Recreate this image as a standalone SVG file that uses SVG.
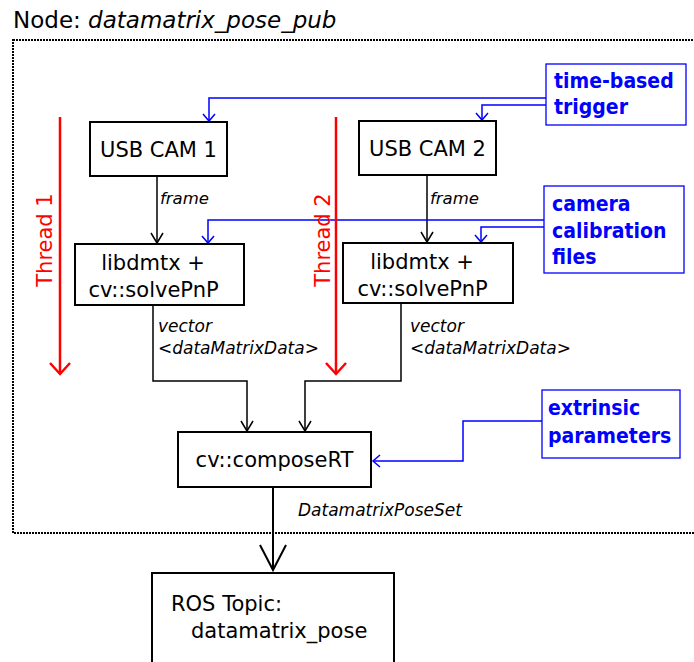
<svg xmlns="http://www.w3.org/2000/svg" width="694" height="662" viewBox="0 0 694 662">
<defs>
<style>
text{font-family:"DejaVu Sans","Liberation Sans",sans-serif;}
.box{fill:#fff;stroke:#000;stroke-width:2;}
.bbox{fill:#fff;stroke:#00f;stroke-width:1.3;}
.t{font-size:21px;fill:#000;}
.lbl{font-size:16.5px;font-style:italic;fill:#000;}
.lbl2{font-size:17px;font-style:italic;fill:#000;}
.bl{font-family:"DejaVu Sans Condensed","DejaVu Sans",sans-serif;font-stretch:condensed;font-size:21px;font-weight:bold;fill:#00f;}
.con{fill:none;stroke:#000;stroke-width:1.5;}
.bcon{fill:none;stroke:#00f;stroke-width:1.5;}
.red{fill:none;stroke:#f00;stroke-width:2.5;}
.rt{font-size:21px;fill:#f00;}
</style>
<marker id="ak" markerWidth="14" markerHeight="14" refX="12" refY="6" orient="auto" markerUnits="userSpaceOnUse" viewBox="0 0 14 12">
<path d="M2,0 L12,6 L2,12" fill="none" stroke="#000" stroke-width="1.5"/>
</marker>
<marker id="ab" markerWidth="14" markerHeight="14" refX="10" refY="6" orient="auto" markerUnits="userSpaceOnUse" viewBox="0 0 14 12">
<path d="M3,0 L10,6 L3,12" fill="none" stroke="#00f" stroke-width="1.5"/>
</marker>
</defs>
<rect width="694" height="662" fill="#fff"/>
<text x="13" y="28" style="font-size:23px"><tspan>Node: </tspan><tspan font-style="italic">datamatrix_pose_pub</tspan></text>
<rect x="13" y="40" width="700" height="493" fill="none" stroke="#000" stroke-width="2" stroke-dasharray="2,1"/>

<g id="connectors">
<path class="con" d="M157,177 V243" marker-end="url(#ak)"/>
<path class="con" d="M427,176 V242" marker-end="url(#ak)"/>
<path class="con" d="M153,305 V381 H247 V431" marker-end="url(#ak)"/>
<path class="con" d="M401,303 V381 H305 V431" marker-end="url(#ak)"/>
<path class="bcon" d="M546,98 H209 V121" marker-end="url(#ab)"/>
<path class="bcon" d="M546,105 H482 V120" marker-end="url(#ab)"/>
<path class="bcon" d="M544,220 H208 V243" marker-end="url(#ab)"/>
<path class="bcon" d="M544,227 H481 V242" marker-end="url(#ab)"/>
<path class="bcon" d="M542,421 H463 V461 H373" marker-end="url(#ab)"/>
<path d="M273,488 V570" fill="none" stroke="#000" stroke-width="2"/>
<path d="M260,545 L273,570 L286,545" fill="none" stroke="#000" stroke-width="2"/>
<text class="lbl" x="160" y="204">frame</text>
<text class="lbl" x="430" y="204">frame</text>
<text class="lbl2" x="158" y="332">vector</text>
<text class="lbl2" x="158" y="354">&lt;dataMatrixData&gt;</text>
<text class="lbl2" x="410" y="332">vector</text>
<text class="lbl2" x="410" y="354">&lt;dataMatrixData&gt;</text>
<text class="lbl2" x="298" y="516">DatamatrixPoseSet</text>
</g>

<g id="thread1">
<path class="red" d="M60,117 V374"/>
<path class="red" d="M50,363 L60,374 L70,363"/>
<text class="rt" transform="translate(52,240) rotate(-90)" text-anchor="middle">Thread 1</text>
</g>
<g id="thread2">
<path class="red" d="M336,117 V374"/>
<path class="red" d="M326,363 L336,374 L346,363"/>
<text class="rt" transform="translate(330,240) rotate(-90)" text-anchor="middle">Thread 2</text>
</g>

<g id="cam1">
<rect class="box" x="90" y="122" width="137" height="54"/>
<text class="t" x="158.5" y="157" text-anchor="middle">USB CAM 1</text>
</g>
<g id="cam2">
<rect class="box" x="359" y="121" width="137" height="54"/>
<text class="t" x="427.5" y="156" text-anchor="middle">USB CAM 2</text>
</g>
<g id="dmtx1">
<rect class="box" x="75" y="244" width="169" height="61"/>
<text class="t" x="153" y="270" text-anchor="middle">libdmtx +</text>
<text class="t" x="153.5" y="297" text-anchor="middle">cv::solvePnP</text>
</g>
<g id="dmtx2">
<rect class="box" x="343" y="243" width="170" height="60"/>
<text class="t" x="422" y="269" text-anchor="middle">libdmtx +</text>
<text class="t" x="422.5" y="296" text-anchor="middle">cv::solvePnP</text>
</g>
<g id="compose">
<rect class="box" x="178" y="432" width="193" height="55"/>
<text class="t" x="274.5" y="467" text-anchor="middle">cv::composeRT</text>
</g>
<g id="ros">
<rect class="box" x="152" y="573" width="242" height="100"/>
<text class="t" x="171" y="611">ROS Topic:</text>
<text class="t" x="191" y="638">datamatrix_pose</text>
</g>
<g id="trigger">
<rect class="bbox" x="546" y="64" width="140" height="61"/>
<text class="bl" x="554" y="88">time-based</text>
<text class="bl" x="554" y="114">trigger</text>
</g>
<g id="calib">
<rect class="bbox" x="544" y="186" width="140" height="87"/>
<text class="bl" x="552" y="211">camera</text>
<text class="bl" x="552" y="238">calibration</text>
<text class="bl" x="552" y="264">files</text>
</g>
<g id="extrinsic">
<rect class="bbox" x="542" y="390" width="138" height="68"/>
<text class="bl" x="548" y="415">extrinsic</text>
<text class="bl" x="548" y="443">parameters</text>
</g>
</svg>
